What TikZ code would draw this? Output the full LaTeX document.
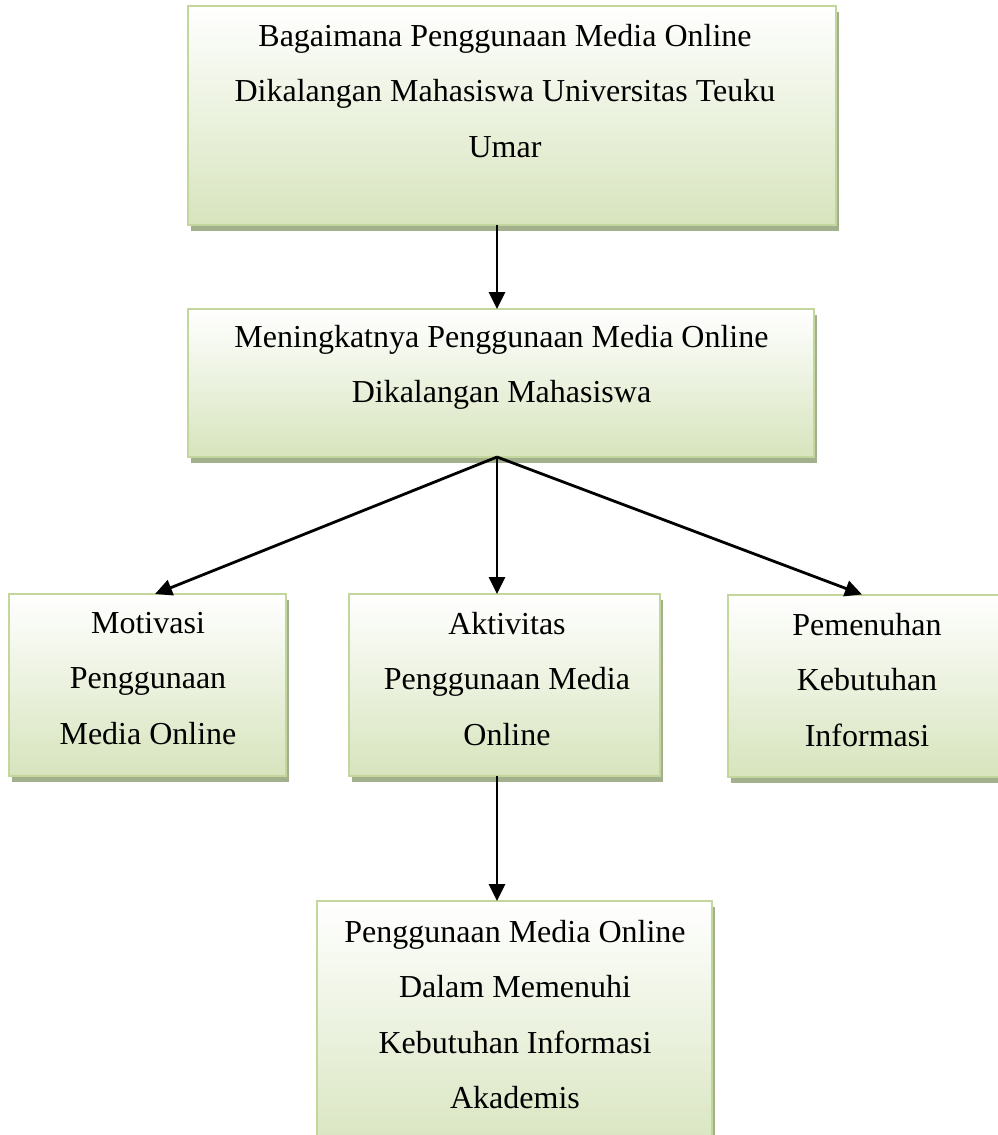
\documentclass[tikz,border=0pt]{standalone}
\usepackage{fontspec}
\setmainfont{Liberation Serif}
\usetikzlibrary{arrows.meta,shadows}
\definecolor{boxborder}{HTML}{C3D69B}
\definecolor{boxfill}{HTML}{D7E4BD}
\definecolor{shadowcol}{HTML}{A3B08E}
\tikzset{
  box/.style={rectangle, draw=boxborder, line width=2pt, inner sep=0pt, outer sep=0pt,
    top color=white, bottom color=boxfill,
    drop shadow={shadow xshift=3pt, shadow yshift=-6pt, fill=shadowcol, opacity=1}},
  txt/.style={anchor=north, inner sep=0pt, align=center, font={\fontsize{32}{55.5}\selectfont}},
  arr/.style={line width=2.8pt, -{Triangle[length=17pt,width=16pt]}}
}
\begin{document}
\begin{tikzpicture}[x=1pt,y=-1pt]
\path[use as bounding box] (0,0) rectangle (998,1135);
\clip (0,0) rectangle (998,1135);
% boxes
\node[box, minimum width=648pt, minimum height=219pt] (b1) at (512,115.5) {};
\node[box, minimum width=626pt, minimum height=148pt] (b2) at (501,383) {};
\node[box, minimum width=277pt, minimum height=182pt] (b3) at (147.5,685) {};
\node[box, minimum width=311pt, minimum height=182pt] (b4) at (504.5,685) {};
\node[box, minimum width=300pt, minimum height=182pt] (b5) at (878,685.5) {};
\node[box, minimum width=395pt, minimum height=259pt] (b6) at (514.5,1030.5) {};
% texts
\node[txt] (t1) at (505,24) {Bagaimana Penggunaan Media Online\\Dikalangan Mahasiswa Universitas Teuku\\Umar};
\node[txt] (t2) at (501.5,325) {Meningkatnya Penggunaan Media Online\\Dikalangan Mahasiswa};
\node[txt] (t3) at (148,612) {Motivasi\\Penggunaan\\Media Online};
\node[txt] (t4) at (507,612) {Aktivitas\\Penggunaan Media\\Online};
\node[txt] (t5) at (867,613) {Pemenuhan\\Kebutuhan\\Informasi};
\node[txt] (t6) at (515,920) {Penggunaan Media Online\\Dalam Memenuhi\\Kebutuhan Informasi\\Akademis};
% connector x positions
\coordinate (cm) at (497,0);
\coordinate (cl) at (155,0);
\coordinate (cr) at (862,0);
% connectors
\draw[arr] (b1.south -| cm) -- (b2.north -| cm);
\draw[arr] (b2.south -| cm) -- (b3.north -| cl);
\draw[arr] (b2.south -| cm) -- (b4.north -| cm);
\draw[arr] (b2.south -| cm) -- (b5.north -| cr);
\draw[arr] (b4.south -| cm) -- (b6.north -| cm);
\end{tikzpicture}
\end{document}
